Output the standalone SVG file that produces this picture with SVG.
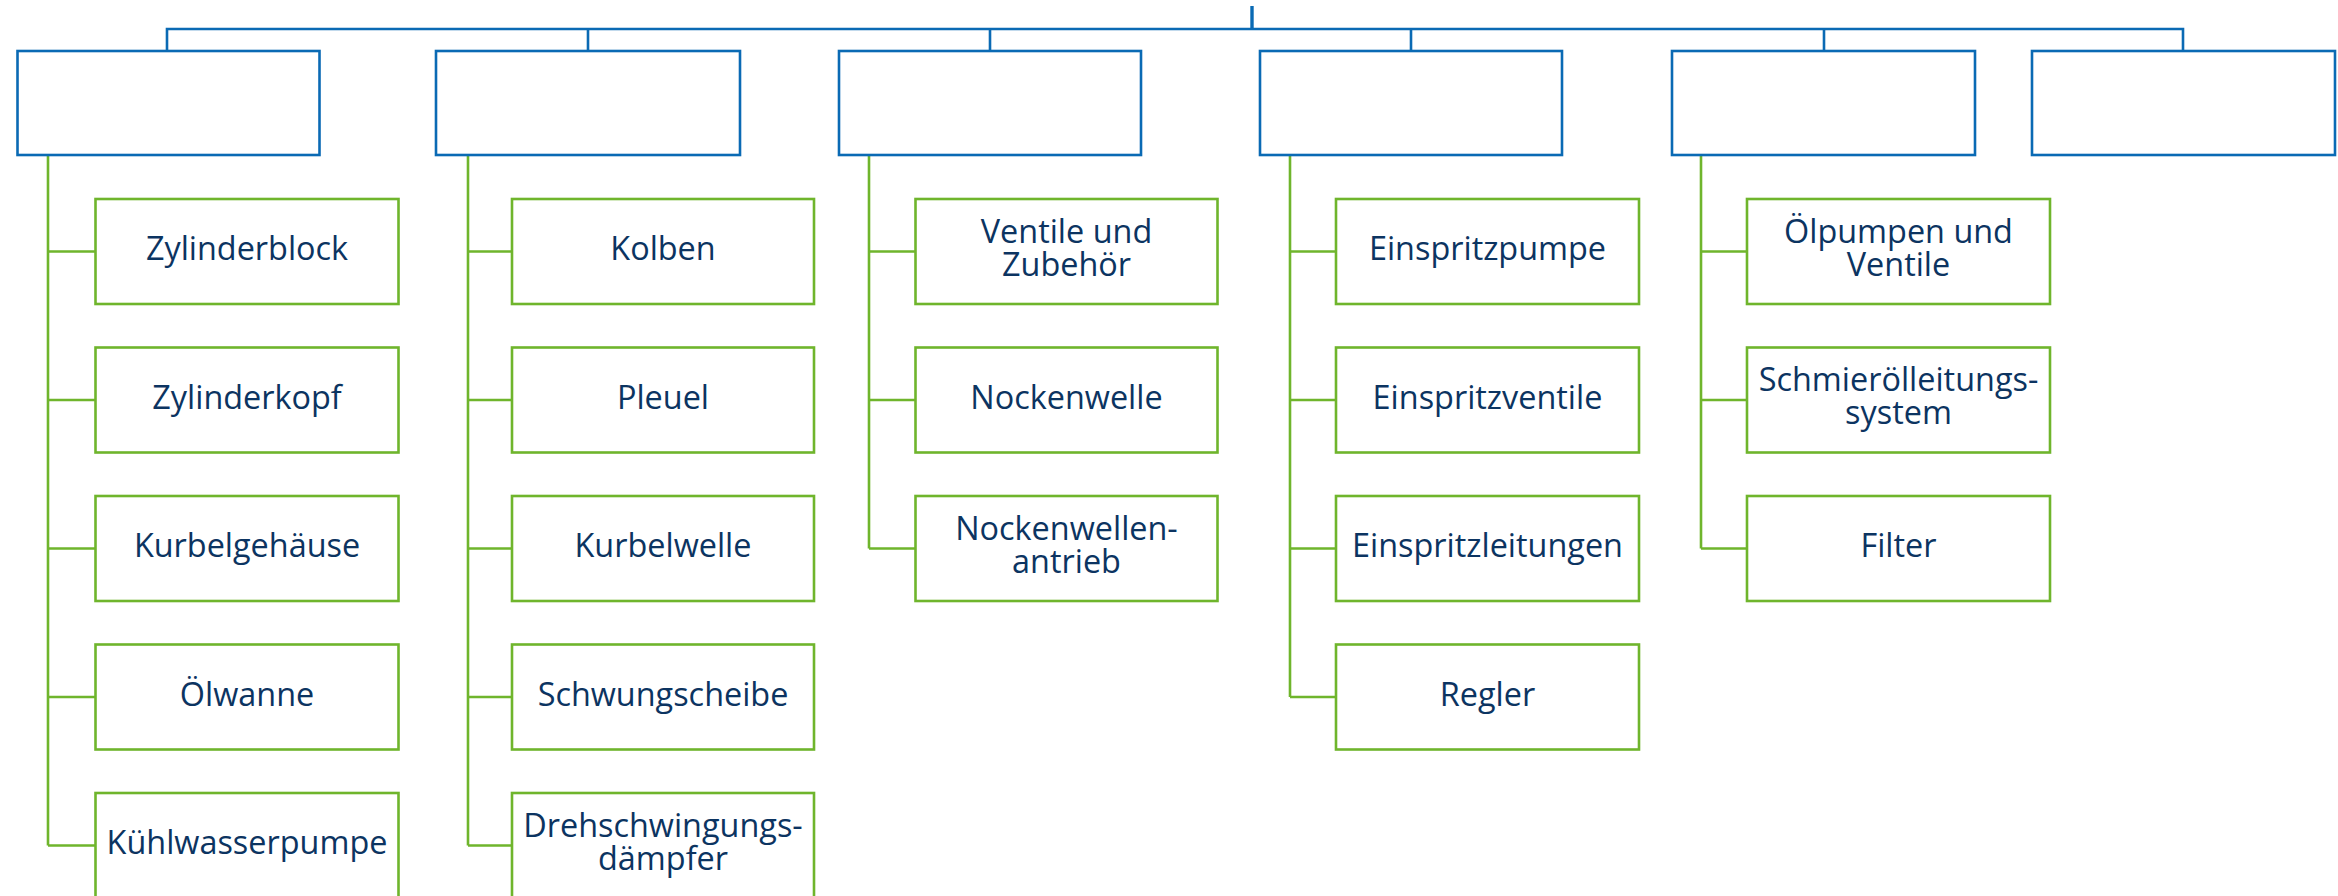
<svg xmlns="http://www.w3.org/2000/svg" width="2338" height="896" viewBox="0 0 2338 896">
<style>
.top{fill:#fff;stroke:#0a6ab4;stroke-width:2.6}
.child{fill:#fff;stroke:#6fb52c;stroke-width:2.6}
.bl{fill:none;stroke:#0a6ab4;stroke-width:2.6}
.gl{fill:none;stroke:#6fb52c;stroke-width:2.6}
text{font-family:"Open Sans","Noto Sans","Liberation Sans",sans-serif;font-size:32.4px;fill:#0c3461;text-anchor:middle}
</style>
<rect width="2338" height="896" fill="#fff"/>
<g id="connectors">
<line class="bl" x1="1252" y1="6" x2="1252" y2="29" style="stroke-width:3.4"/>
<path class="bl" d="M167 51V29H2183V51M588 29V51M990 29V51M1411 29V51M1824 29V51"/>
<path class="gl" d="M48 155V845.5M48 251.5H95.5M48 400H95.5M48 548.5H95.5M48 697H95.5M48 845.5H95.5"/>
<path class="gl" d="M468 155V845.5M468 251.5H512M468 400H512M468 548.5H512M468 697H512M468 845.5H512"/>
<path class="gl" d="M869 155V548.5M869 251.5H915.5M869 400H915.5M869 548.5H915.5"/>
<path class="gl" d="M1290 155V697M1290 251.5H1336M1290 400H1336M1290 548.5H1336M1290 697H1336"/>
<path class="gl" d="M1701 155V548.5M1701 251.5H1747M1701 400H1747M1701 548.5H1747"/>
</g>
<g id="top1"><rect class="top" x="17.5" y="51" width="302" height="104"/></g>
<g id="top2"><rect class="top" x="436" y="51" width="304" height="104"/></g>
<g id="top3"><rect class="top" x="839" y="51" width="302" height="104"/></g>
<g id="top4"><rect class="top" x="1260" y="51" width="302" height="104"/></g>
<g id="top5"><rect class="top" x="1672" y="51" width="303" height="104"/></g>
<g id="top6"><rect class="top" x="2032" y="51" width="303" height="104"/></g>

<g id="c1r1"><rect class="child" x="95.5" y="199" width="303" height="105"/><text x="247" y="260">Zylinderblock</text></g>
<g id="c1r2"><rect class="child" x="95.5" y="347.5" width="303" height="105"/><text x="247" y="408.5">Zylinderkopf</text></g>
<g id="c1r3"><rect class="child" x="95.5" y="496" width="303" height="105"/><text x="247" y="557">Kurbelgehäuse</text></g>
<g id="c1r4"><rect class="child" x="95.5" y="644.5" width="303" height="105"/><text x="247" y="705.5">Ölwanne</text></g>
<g id="c1r5"><rect class="child" x="95.5" y="793" width="303" height="105"/><text x="247" y="854">Kühlwasserpumpe</text></g>

<g id="c2r1"><rect class="child" x="512" y="199" width="302" height="105"/><text x="663" y="260">Kolben</text></g>
<g id="c2r2"><rect class="child" x="512" y="347.5" width="302" height="105"/><text x="663" y="408.5">Pleuel</text></g>
<g id="c2r3"><rect class="child" x="512" y="496" width="302" height="105"/><text x="663" y="557">Kurbelwelle</text></g>
<g id="c2r4"><rect class="child" x="512" y="644.5" width="302" height="105"/><text x="663" y="705.5">Schwungscheibe</text></g>
<g id="c2r5"><rect class="child" x="512" y="793" width="302" height="105"/><text x="663" y="837">Drehschwingungs-</text><text x="663" y="870">dämpfer</text></g>

<g id="c3r1"><rect class="child" x="915.5" y="199" width="302" height="105"/><text x="1066.5" y="243.3">Ventile und</text><text x="1066.5" y="276.3">Zubehör</text></g>
<g id="c3r2"><rect class="child" x="915.5" y="347.5" width="302" height="105"/><text x="1066.5" y="408.5">Nockenwelle</text></g>
<g id="c3r3"><rect class="child" x="915.5" y="496" width="302" height="105"/><text x="1066.5" y="540">Nockenwellen-</text><text x="1066.5" y="573">antrieb</text></g>

<g id="c4r1"><rect class="child" x="1336" y="199" width="303" height="105"/><text x="1487.5" y="260">Einspritzpumpe</text></g>
<g id="c4r2"><rect class="child" x="1336" y="347.5" width="303" height="105"/><text x="1487.5" y="408.5">Einspritzventile</text></g>
<g id="c4r3"><rect class="child" x="1336" y="496" width="303" height="105"/><text x="1487.5" y="557">Einspritzleitungen</text></g>
<g id="c4r4"><rect class="child" x="1336" y="644.5" width="303" height="105"/><text x="1487.5" y="705.5">Regler</text></g>

<g id="c5r1"><rect class="child" x="1747" y="199" width="303" height="105"/><text x="1898.5" y="243.3">Ölpumpen und</text><text x="1898.5" y="276.3">Ventile</text></g>
<g id="c5r2"><rect class="child" x="1747" y="347.5" width="303" height="105"/><text x="1898.5" y="391.3">Schmierölleitungs-</text><text x="1898.5" y="424.3">system</text></g>
<g id="c5r3"><rect class="child" x="1747" y="496" width="303" height="105"/><text x="1898.5" y="557">Filter</text></g>
</svg>
